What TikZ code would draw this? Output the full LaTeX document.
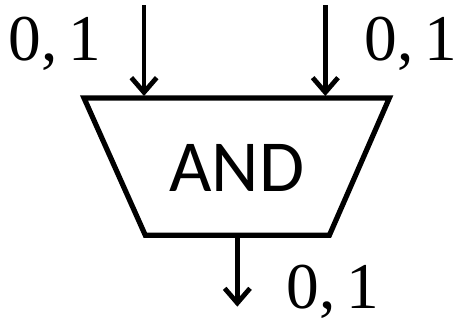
\documentclass[tikz,border=0pt]{standalone}
\usepackage{fontspec}
\setmainfont{Carlito}
\newfontfamily\bitfont{Liberation Serif}
\usepackage{tikz}
\usetikzlibrary{arrows.meta}
\tikzset{
  wire/.style={line width=3.6pt, -{Straight Barb[length=11pt,width=19pt,line width=3.6pt]}},
  gatebox/.style={line width=3.9pt, line join=miter},
  bitlabel/.style={font=\bitfont\fontsize{49}{52}\selectfont, inner sep=0pt}
}
\begin{document}
\begin{tikzpicture}[x=1pt, y=-1pt]
    \useasboundingbox (0, 0) rectangle (342, 240.75);
    % Gate outline
    \draw[gatebox] (63, 73.5) -- (292, 73.5) -- (247, 176.5) -- (109, 176.5) -- cycle;
    \node[font=\fontsize{55}{60}\selectfont, inner sep=0pt] (gate) at (177.5, 126) {AND};

    % Wires
    \coordinate (inA) at (108, 4);
    \coordinate (inB) at (244, 4);
    \coordinate (gateA) at (108, 72);
    \coordinate (gateB) at (244, 72);
    \coordinate (gateOut) at (178, 176.5);
    \coordinate (outEnd) at (178, 230);
    \draw[wire] (inA) -- (gateA);
    \draw[wire] (inB) -- (gateB);
    \draw[wire] (gateOut) -- (outEnd);

    % Values
    \node[bitlabel] (bitA) at (41, 33) {0,\,1};
    \node[bitlabel] (bitB) at (308, 33) {0,\,1};
    \node[bitlabel] (bitOut) at (249.5, 219) {0,\,1};
\end{tikzpicture}
\end{document}
